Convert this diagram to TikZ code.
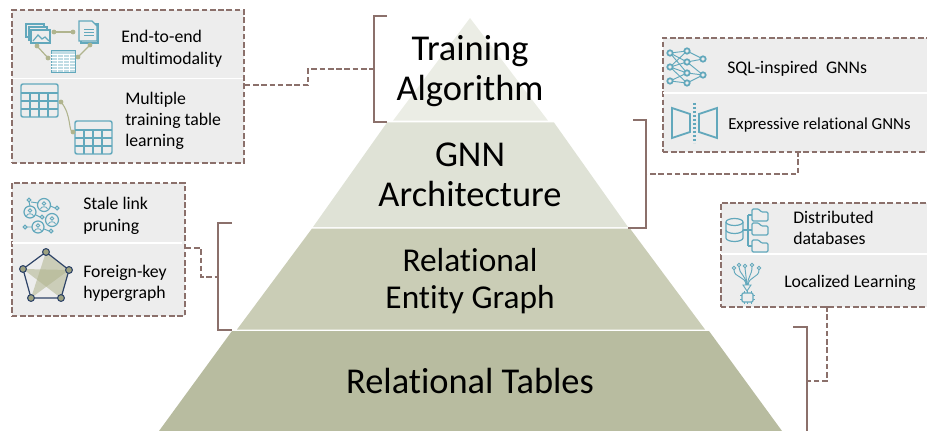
\documentclass[tikz,border=0pt]{standalone}
\usepackage{fontspec}
\setmainfont{Carlito}[Ligatures=NoCommon]
\definecolor{boxbg}{HTML}{EDEDED}
\definecolor{brk}{HTML}{8B706B}
\definecolor{ic}{HTML}{62A8BC}
\definecolor{oli}{HTML}{B0B48E}
\definecolor{navy}{HTML}{2F4468}
\definecolor{L1}{HTML}{EBEDE5}
\definecolor{L2}{HTML}{DFE2D6}
\definecolor{L3}{HTML}{CACDB6}
\definecolor{L4}{HTML}{B8BCA0}
\tikzset{
 x=0.75pt,y=-0.75pt,
 panel/.style={draw=brk,line width=1.3pt,dash pattern=on 4.2pt off 2pt,inner sep=0pt,anchor=north west,fill=boxbg},
 brack/.style={draw=brk,line width=1.5pt},
 conn/.style={draw=brk,line width=1.3pt,dash pattern=on 4.2pt off 2pt},
 bigt/.style={font=\fontsize{27.3}{30}\selectfont,align=center,text=black},
 smt/.style={font=\fontsize{13.3}{16.5}\selectfont,align=left,anchor=west,text=black,inner sep=0pt},
 icn/.style={draw=ic,line width=0.9pt},
 sep/.style={draw=white,line width=1.2pt},
}
\begin{document}
\begin{tikzpicture}
\useasboundingbox (0,0) rectangle (927,431);
% pyramid
\fill[L1] (470,18) -- (548,120.7) -- (393,120.7) -- cycle;
\fill[L2] (387,122.5) -- (554,122.5) -- (628,227) -- (313,227) -- cycle;
\fill[L3] (312,228.5) -- (630,228.5) -- (705,329.5) -- (237,329.5) -- cycle;
\fill[L4] (232,331) -- (709,331) -- (782,431) -- (159,431) -- cycle;
\node[bigt] (t1) at (470,71) {Training\\Algorithm};
\node[bigt] (t2) at (470,175) {GNN\\Architecture};
\node[bigt,font=\fontsize{25}{27.75}\selectfont] (t3) at (470,281) {Relational\\Entity Graph};
\node[bigt] (t4) at (470,381) {Relational Tables};
% panels
\node[panel,minimum width=174pt,minimum height=114.75pt] (pa) at (11,9) {};
\node[panel,minimum width=129.75pt,minimum height=99.75pt] (pb) at (11,182) {};
\node[panel,minimum width=210pt,minimum height=85.5pt] (pc) at (662,37) {};
\node[panel,minimum width=165pt,minimum height=78pt] (pd) at (720,202) {};
\draw[sep] (12,78.5) -- (243,78.5);
\draw[sep] (12,243) -- (182,243);
\draw[sep] (663,93) -- (927,93);
\draw[sep] (721,254) -- (927,254);
% brackets
\draw[brack] (387,16) -- (374,16) -- (374,122) -- (387,122);
\draw[brack] (633,120) -- (645.5,120) -- (645.5,228) -- (628,228);
\draw[brack] (232,223) -- (218,223) -- (218,330) -- (232,330);
\draw[brack] (793,327) -- (807,327) -- (807,431);
% connectors
\coordinate (c1) at (374,69); \coordinate (c2) at (218,277); \coordinate (c3) at (645.5,174); \coordinate (c4) at (807,381);
\draw[conn] (pa.east |- 0,85) -- (308,85) -- (308,69) -- (c1);
\draw[conn] (pb.east |- 0,248) -- (201,248) -- (201,277) -- (c2);
\draw[conn] (798,151) -- (798,174) -- (c3);
\draw[conn] (827,306) -- (827,381) -- (c4);
% text
\node[smt] (a1) at (121,49) {End-to-end\\multimodality};
\node[smt,font=\fontsize{13.3}{16}\selectfont] (a2) at (125,121) {Multiple\\training table\\learning};
\node[smt] (b1) at (83,216) {Stale link\\pruning};
\node[smt,font=\fontsize{13.3}{15.75}\selectfont] (b2) at (83,283) {Foreign-key\\hypergraph};
\node[smt] (c1t) at (727,69) {SQL-inspired\ \ GNNs};
\node[smt,font=\fontsize{12.6}{16}\selectfont] (c2t) at (728,125.5) {Expressive relational GNNs};
\node[smt,font=\fontsize{13.3}{15.75}\selectfont] (d1) at (793,228) {Distributed\\databases};
\node[smt] (d2) at (784,282.5) {Localized Learning};
% icon: multimodality
\draw[icn,fill=boxbg] (26,24) rectangle (44,37);
\draw[icn,fill=boxbg] (29,27) rectangle (47,40);
\draw[icn,fill=boxbg] (31,30) rectangle (50,43);
\draw[icn] (33,41) -- (38,35) -- (42,39) -- (45,37) -- (49,41);
\draw[icn,fill=boxbg] (81,24) rectangle (98,43);
\draw[icn,fill=boxbg] (79,21) -- (92,21) -- (97,26) -- (97,41) -- (79,41) -- cycle;
\draw[icn,line width=.6pt] (84,29) -- (94,29) (84,32) -- (94,32) (84,35) -- (94,35);
\fill[ic!40] (51,50) rectangle (75,72);
\draw[icn,line width=.6pt] (51,50) rectangle (75,72);
\foreach \y in {54,57,60,63,66,69} \draw[draw=white,line width=.5pt] (51,\y) -- (75,\y);
\foreach \x in {57,63,69} \draw[draw=white,line width=.5pt] (\x,54) -- (\x,72);
\draw[oli,line width=.9pt] (54,32) -- (73,32);
\fill[oli] (54,32) circle (1.8pt) (73,32) circle (1.8pt);
\draw[oli,line width=.9pt] (37,46) -- (48,58) (78,57) -- (90,45);
\fill[oli] (37,46) circle (1.8pt) (48,58) circle (1.8pt) (78,57) circle (1.8pt) (90,45) circle (1.8pt);
% icon: two tables
\foreach \ox/\oy in {21/84,75/121}{
 \draw[icn,line width=1.1pt,rounded corners=1.5pt] (\ox,\oy) rectangle ++(37,33);
 \draw[icn] (\ox,\oy+9) -- ++(37,0) (\ox,\oy+17) -- ++(37,0) (\ox,\oy+25) -- ++(37,0);
 \draw[icn] (\ox+9,\oy+9) -- ++(0,24) (\ox+18,\oy+9) -- ++(0,24) (\ox+27,\oy+9) -- ++(0,24);
}
\draw[oli,line width=.8pt] (61,102) .. controls (72,115) and (68,132) .. (73,132);
\fill[oli] (61,102) circle (1.8pt) (73,132) circle (1.8pt);
% icon: people
\foreach \cx/\cy/\r in {44/205/6.5,30/212/6,52/220/6.5,38/227/6}{
 \draw[icn] (\cx,\cy) circle (\r);
 \draw[icn,line width=.6pt] (\cx,\cy-1.5) circle (1.8);
 \draw[icn,line width=.6pt] (\cx-3.5,\cy+4) .. controls (\cx-3,\cy+1) and (\cx+3,\cy+1) .. (\cx+3.5,\cy+4);
}
\draw[icn,line width=.7pt] (38,203) -- (31,202) (29,201.5) -- (30,206) (50.5,206) -- (55,208) (36,215) -- (40,217) (32,227) -- (27,227) (44,229) -- (49,231);
\foreach \px/\py in {29/200,57/208,42/217,25/227,51/231} \draw[icn] (\px,\py) circle (1.9);
% icon: pentagon
\fill[oli,opacity=.55] (46,252) -- (69,270) -- (31,298) -- cycle;
\fill[oli,opacity=.55] (23,269) -- (69,270) -- (61,298) -- cycle;
\draw[navy,line width=.9pt] (46,252) -- (69,270) -- (61,298) -- (31,298) -- (23,269) -- cycle;
\foreach \px/\py in {46/252,69/270,61/298,31/298,23/269} \draw[navy,fill=oli!90!black,line width=.8pt] (\px,\py) circle (3.4);
% icon: nn
\foreach \a/\b in {670/53,687/51,703/59,670/67,687/62,703/75,670/81,687/73,687/83}{\coordinate (n\a\b) at (\a,\b);}
\foreach \u/\v in {n67053/n68751,n67053/n68762,n67053/n68773,n67067/n68751,n67067/n68762,n67067/n68773,n67067/n68783,n67081/n68773,n67081/n68783,n68751/n70359,n68762/n70359,n68773/n70375,n68783/n70375,n68762/n70375}
 \draw[icn,line width=.7pt] (\u) -- (\v);
\foreach \u in {n67053,n68751,n70359,n67067,n68762,n70375,n67081,n68773,n68783}
 \draw[icn,line width=1.3pt,fill=boxbg] (\u) circle (2.7);
% icon: butterfly
\draw[draw=ic,line width=1.4pt] (672,108) -- (690,114) -- (690,132) -- (672,138) -- cycle;
\draw[draw=ic,line width=1.4pt] (717,108) -- (699,114) -- (699,132) -- (717,138) -- cycle;
\draw[draw=ic,line width=1.6pt,dash pattern=on 1.6pt off 1.4pt] (694.5,103) -- (694.5,143);
% icon: db folders
\draw[icn] (734.5,222) ellipse (8.5 and 3.5);
\draw[icn] (726,222) -- (726,238) arc (180:0:8.5 and 3.5) -- (743,222);
\draw[icn] (726,230) arc (180:0:8.5 and 3.5);
\draw[icn] (743,230) -- (752,230) (748,215) -- (748,246) (748,215) -- (752,215) (748,246) -- (752,246);
\foreach \y in {209,223,240}{
 \draw[icn,rounded corners=1pt] (752,\y) -- (752,\y+12) -- (768,\y+12) -- (768,\y+3) -- (761,\y+3) -- (759,\y) -- cycle;
}
% icon: chip
\foreach \px/\py in {734/268,739/265,745/266,752/265,759/268}{\draw[icn,line width=.7pt] (\px,\py) circle (1.7);}
\draw[icn,line width=.7pt] (734,270) .. controls (734,278) and (746,276) .. (746,285);
\draw[icn,line width=.7pt] (739,267) .. controls (739,274) and (746,275) .. (746.5,285);
\draw[icn,line width=.7pt] (745,268) -- (747,285);
\draw[icn,line width=.7pt] (752,267) .. controls (752,275) and (748,276) .. (747.5,285);
\draw[icn,line width=.7pt] (759,270) .. controls (759,278) and (749,276) .. (748,285);
\draw[icn,line width=.7pt,fill=boxbg] (743,285) -- (751,285) -- (747,291) -- cycle;
\draw[icn,line width=.5pt] (744,291) -- (744,304) (747.5,291) -- (747.5,304) (751,291) -- (751,304) (740,295.5) -- (755,295.5) (740,299.5) -- (755,299.5);
\draw[icn,line width=.9pt,fill=boxbg,rounded corners=1pt] (742,293) rectangle (753,302);
\end{tikzpicture}
\end{document}
